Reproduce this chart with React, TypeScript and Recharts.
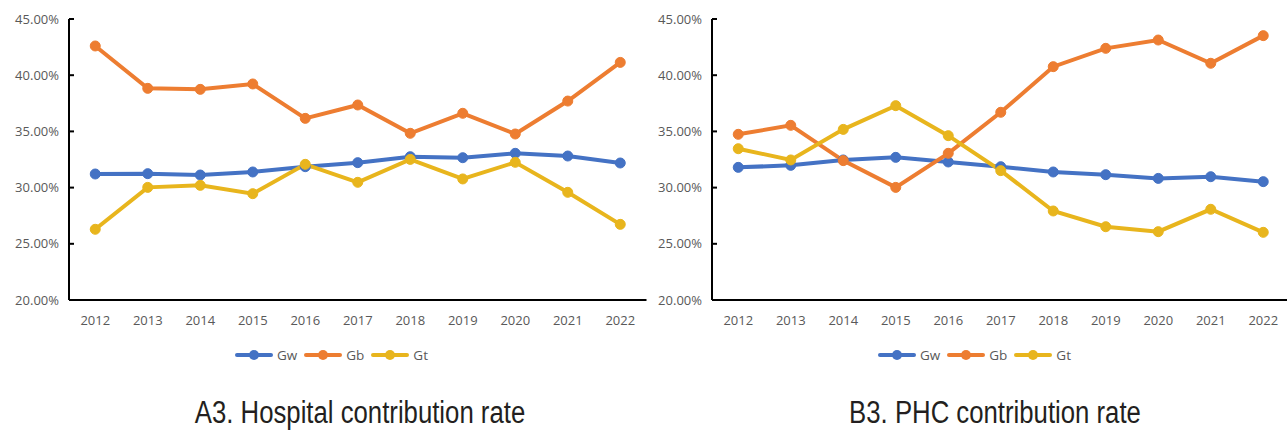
import React from 'react';
import { LineChart, Line, XAxis, YAxis, Legend } from 'recharts';

const years = ['2012', '2013', '2014', '2015', '2016', '2017', '2018', '2019', '2020', '2021', '2022'];
const hospGw = [31.21, 31.24, 31.12, 31.39, 31.86, 32.22, 32.75, 32.66, 33.05, 32.81, 32.19];
const hospGb = [42.6, 38.83, 38.74, 39.22, 36.16, 37.35, 34.83, 36.61, 34.77, 37.7, 41.14];
const hospGt = [26.29, 30.02, 30.2, 29.46, 32.07, 30.47, 32.51, 30.77, 32.25, 29.58, 26.73];
const phcGw = [31.8, 31.98, 32.46, 32.69, 32.28, 31.86, 31.39, 31.15, 30.82, 30.97, 30.53];
const phcGb = [34.74, 35.54, 32.4, 30.02, 33.05, 36.7, 40.76, 42.39, 43.13, 41.06, 43.52];
const phcGt = [33.46, 32.46, 35.18, 37.29, 34.62, 31.51, 27.92, 26.52, 26.08, 28.07, 26.02];
const yTicks = [20, 25, 30, 35, 40, 45];
const seriesNames = ['Gw', 'Gb', 'Gt'];
const colors = ['#4472C4', '#ED7D31', '#E8B51D'];

const FONT = '"Open Sans", sans-serif';
const TEXT = '#595959';

const build = (gw: number[], gb: number[], gt: number[]) =>
  years.map((y, i) => ({ year: y, Gw: gw[i], Gb: gb[i], Gt: gt[i] }));

const LegendContent = (props: any) => {
  const payload = [...(props.payload || [])].sort(
    (a: any, b: any) => seriesNames.indexOf(a.value) - seriesNames.indexOf(b.value)
  );
  return (
    <div style={{ display: 'flex', alignItems: 'center', fontFamily: FONT, fontSize: 13.5, color: TEXT }}>
      {payload.map((p: any) => (
        <div key={p.value} style={{ display: 'flex', alignItems: 'center', marginRight: 7 }}>
          <svg width={38} height={14} style={{ display: 'block' }}>
            <line x1={2} y1={7} x2={36} y2={7} stroke={p.color} strokeWidth={4} strokeLinecap="round" />
            <circle cx={19} cy={7} r={5} fill={p.color} />
          </svg>
          <span style={{ marginLeft: 4, lineHeight: '14px' }}>{p.value}</span>
        </div>
      ))}
    </div>
  );
};

const Panel = ({ left, data, title, titleCenter }: any) => (
  <>
    <div style={{ position: 'absolute', left, top: 0 }}>
      <LineChart width={660} height={434} data={data} margin={{ top: 19, right: 13.5, left: 0, bottom: 104 }}>
        <XAxis
          dataKey="year"
          height={30}
          padding={{ left: 26.25, right: 26.25 }}
          axisLine={{ stroke: '#000', strokeWidth: 2 }}
          tickLine={false}
          tickSize={0}
          tickMargin={16}
          tick={{ fill: TEXT, fontSize: 13, fontFamily: FONT }}
          interval={0}
        />
        <YAxis
          width={69}
          domain={[20, 45]}
          ticks={yTicks}
          type="number"
          allowDataOverflow
          axisLine={{ stroke: '#000', strokeWidth: 2 }}
          tickLine={{ stroke: '#000', strokeWidth: 2 }}
          tickSize={-5}
          tickMargin={15}
          tick={{ fill: TEXT, fontSize: 13, fontFamily: FONT }}
          tickFormatter={(v: number) => v.toFixed(2) + '%'}
        />
        <Legend
          layout="horizontal"
          verticalAlign="middle"
          align="center"
          content={<LegendContent />}
          wrapperStyle={{ left: 235, top: 348, width: 'auto', height: 14 }}
        />
        {seriesNames.map((n, i) => (
          <Line
            key={n}
            type="linear"
            dataKey={n}
            name={n}
            stroke={colors[i]}
            strokeWidth={4}
            dot={{ r: 5, fill: colors[i], stroke: colors[i], strokeWidth: 1 }}
            activeDot={false}
            isAnimationActive={false}
          />
        ))}
      </LineChart>
    </div>
    <div
      style={{
        position: 'absolute',
        left: titleCenter - 300,
        width: 600,
        top: 397,
        textAlign: 'center',
        fontFamily: '"Liberation Sans", Arial, sans-serif',
        fontSize: 31,
        lineHeight: '31px',
        color: '#231f20',
        transform: 'scaleX(0.83)',
        transformOrigin: 'center',
        whiteSpace: 'nowrap',
      }}
    >
      {title}
    </div>
  </>
);

export default function App() {
  return (
    <div style={{ position: 'absolute', left: 0, top: 0, width: 1287, height: 434, overflow: 'hidden', background: '#fff' }}>
      <Panel left={0} data={build(hospGw, hospGb, hospGt)} title="A3. Hospital contribution rate" titleCenter={360} />
      <Panel left={643} data={build(phcGw, phcGb, phcGt)} title="B3. PHC contribution rate" titleCenter={995} />
    </div>
  );
}
